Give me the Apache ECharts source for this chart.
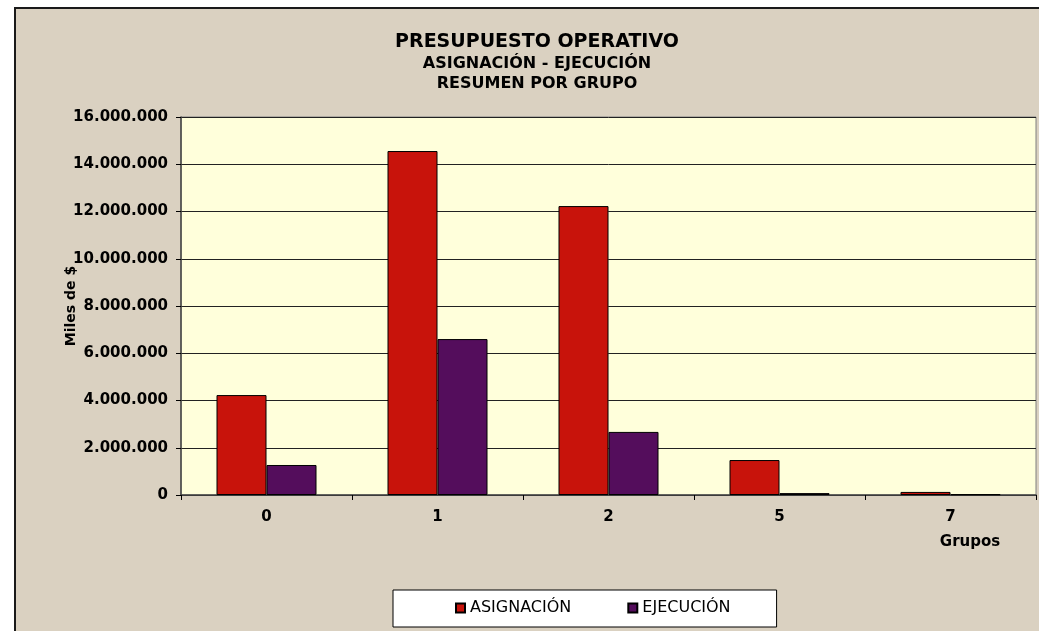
<!DOCTYPE html>
<html>
<head>
<meta charset="utf-8">
<script src="https://cdn.jsdelivr.net/npm/echarts@6/dist/echarts.min.js"></script>
<style>html,body{margin:0;padding:0;background:#fff;}#c{width:1039px;height:631px;}</style>
</head>
<body>
<div id="c"></div>
<script>
const categories = ['0', '1', '2', '5', '7'];
const asignacion = [4230000, 14560000, 12230000, 1480000, 130000];
const ejecucion = [1270000, 6600000, 2670000, 80000, 30000];
const yTicks = { min: 0, max: 16000000, interval: 2000000 };

const FONT = '"DejaVu Sans", Verdana, sans-serif';
function fmt(v) { return String(v).replace(/\B(?=(\d{3})+(?!\d))/g, '.'); }

const chart = echarts.init(document.getElementById('c'));
chart.setOption({
  backgroundColor: '#ffffff',
  animation: false,
  graphic: [{
    type: 'rect', z: -100, silent: true,
    shape: { x: 15, y: 8, width: 1040, height: 640 },
    style: { fill: '#dad1c1', stroke: '#1a1a1a', lineWidth: 2 }
  }],
  title: {
    text: 'PRESUPUESTO OPERATIVO',
    subtext: 'ASIGNACIÓN - EJECUCIÓN\nRESUMEN POR GRUPO',
    left: 537, top: 31, textAlign: 'center', padding: 0, itemGap: 1,
    textStyle: { fontFamily: FONT, fontSize: 19, fontWeight: 'bold', color: '#000', lineHeight: 22 },
    subtextStyle: { fontFamily: FONT, fontSize: 16, fontWeight: 'bold', color: '#000', lineHeight: 20 }
  },
  legend: {
    left: 393, top: 590, padding: [10, 46, 11, 62], itemGap: 56,
    backgroundColor: '#ffffff', borderColor: '#000', borderWidth: 1, borderRadius: 0,
    icon: 'rect', itemWidth: 9, itemHeight: 9,
    textStyle: { fontFamily: FONT, fontSize: 16, color: '#000' },
    data: ['ASIGNACIÓN', 'EJECUCIÓN']
  },
  grid: {
    left: 181, top: 117, right: 3, bottom: 136, show: true,
    backgroundColor: '#ffffdb', borderColor: '#808080', borderWidth: 1
  },
  xAxis: {
    type: 'category', data: categories,
    name: 'Grupos', nameLocation: 'end', nameGap: -66, nameMoveOverlap: false,
    nameTextStyle: { fontFamily: FONT, fontSize: 15, fontWeight: 'bold', color: '#000', align: 'center', verticalAlign: 'top', padding: [40, 0, 0, 0] },
    axisLine: { lineStyle: { color: '#444', width: 1.5 } },
    axisTick: { show: true, length: 5, lineStyle: { color: '#000' } },
    axisLabel: { fontFamily: FONT, fontSize: 15, fontWeight: 'bold', color: '#000', margin: 15 }
  },
  yAxis: {
    type: 'value', min: yTicks.min, max: yTicks.max, interval: yTicks.interval,
    name: 'Miles de $', nameLocation: 'middle', nameGap: 103, nameMoveOverlap: false,
    nameTextStyle: { fontFamily: FONT, fontSize: 14, fontWeight: 'bold', color: '#000' },
    axisLine: { show: true, lineStyle: { color: '#444', width: 1.5 } },
    axisTick: { show: true, length: 5, lineStyle: { color: '#000' } },
    axisLabel: { fontFamily: FONT, fontSize: 15, fontWeight: 'bold', color: '#000', margin: 13, formatter: fmt },
    splitLine: { show: true, lineStyle: { color: '#222', width: 1 } }
  },
  series: [
    { name: 'ASIGNACIÓN', type: 'bar', data: asignacion, barWidth: 50, barGap: '0%',
      itemStyle: { color: '#c8130b', borderColor: '#000', borderWidth: 1 } },
    { name: 'EJECUCIÓN', type: 'bar', data: ejecucion, barWidth: 50,
      itemStyle: { color: '#540d5c', borderColor: '#000', borderWidth: 1 } }
  ]
});
</script>
</body>
</html>
